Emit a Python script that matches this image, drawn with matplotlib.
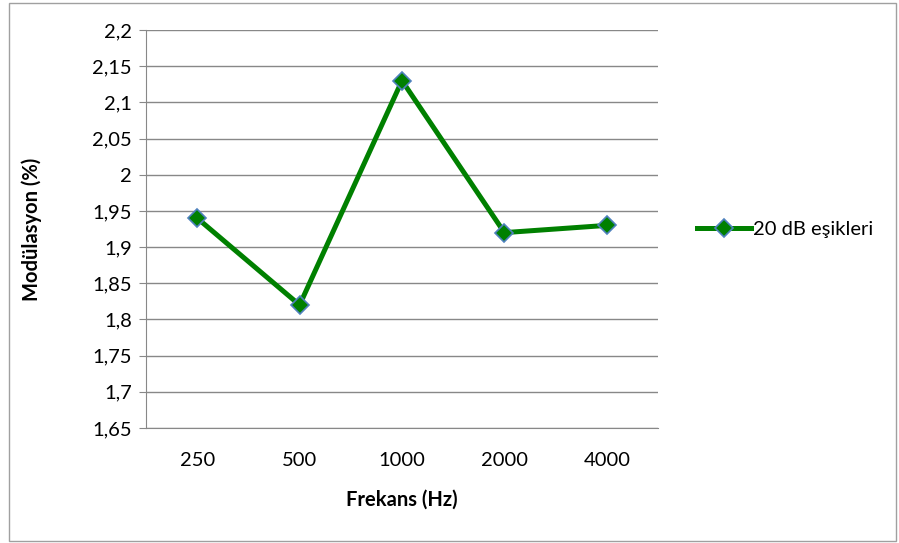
import matplotlib
matplotlib.use('Agg')
import matplotlib.pyplot as plt
from matplotlib.ticker import FuncFormatter
from matplotlib.patches import Rectangle

# data
frequencies = ['250', '500', '1000', '2000', '4000']
modulation = [1.94, 1.82, 2.13, 1.92, 1.93]
series_name = '20 dB eşikleri'

plt.rcParams['font.family'] = ['Lato', 'DejaVu Sans']
fs = 14.5

fig = plt.figure(figsize=(8.99, 5.43), dpi=100)
ax = fig.add_axes([146 / 899, 1 - 428 / 543, 512 / 899, 398 / 543])

# outer chart border
fig.patches.append(Rectangle((9 / 899, 2 / 543), 887 / 899, 538 / 543,
                             transform=fig.transFigure, fill=False,
                             edgecolor='#a0a0a0', linewidth=1.0))

x = list(range(len(frequencies)))
ax.plot(x, modulation, color='#008000', linewidth=3.6, marker='D',
        markersize=9, markerfacecolor='#008000', markeredgecolor='#4f81bd',
        markeredgewidth=1.2, label=series_name, zorder=3)

ax.set_xlim(-0.5, len(frequencies) - 0.5)
ax.set_ylim(1.65, 2.2)
ax.set_yticks([1.65 + 0.05 * i for i in range(12)])
ax.yaxis.set_major_formatter(FuncFormatter(lambda v, p: f'{v:.2f}'.rstrip('0').rstrip('.').replace('.', ',')))
ax.set_xticks(x)
ax.set_xticklabels(frequencies)

ax.grid(axis='y', color='#888888', linewidth=1.0)
ax.set_axisbelow(True)
for side in ['top', 'right']:
    ax.spines[side].set_visible(False)
ax.spines['left'].set_color('#888888')
ax.spines['bottom'].set_color('#888888')
ax.tick_params(axis='y', length=5, color='#888888', labelsize=fs, pad=5)
ax.tick_params(axis='x', length=0, labelsize=fs, pad=17)

ax.set_xlabel('Frekans (Hz)', fontsize=fs, fontweight='bold', labelpad=15)
ax.set_ylabel('Modülasyon (%)', fontsize=fs, fontweight='bold', labelpad=36)

ax.legend(loc='center left', bbox_to_anchor=(1.04, 0.5), frameon=False,
          fontsize=fs, handlelength=2.7, handletextpad=0.1)

fig.savefig('out.png', dpi=100)
